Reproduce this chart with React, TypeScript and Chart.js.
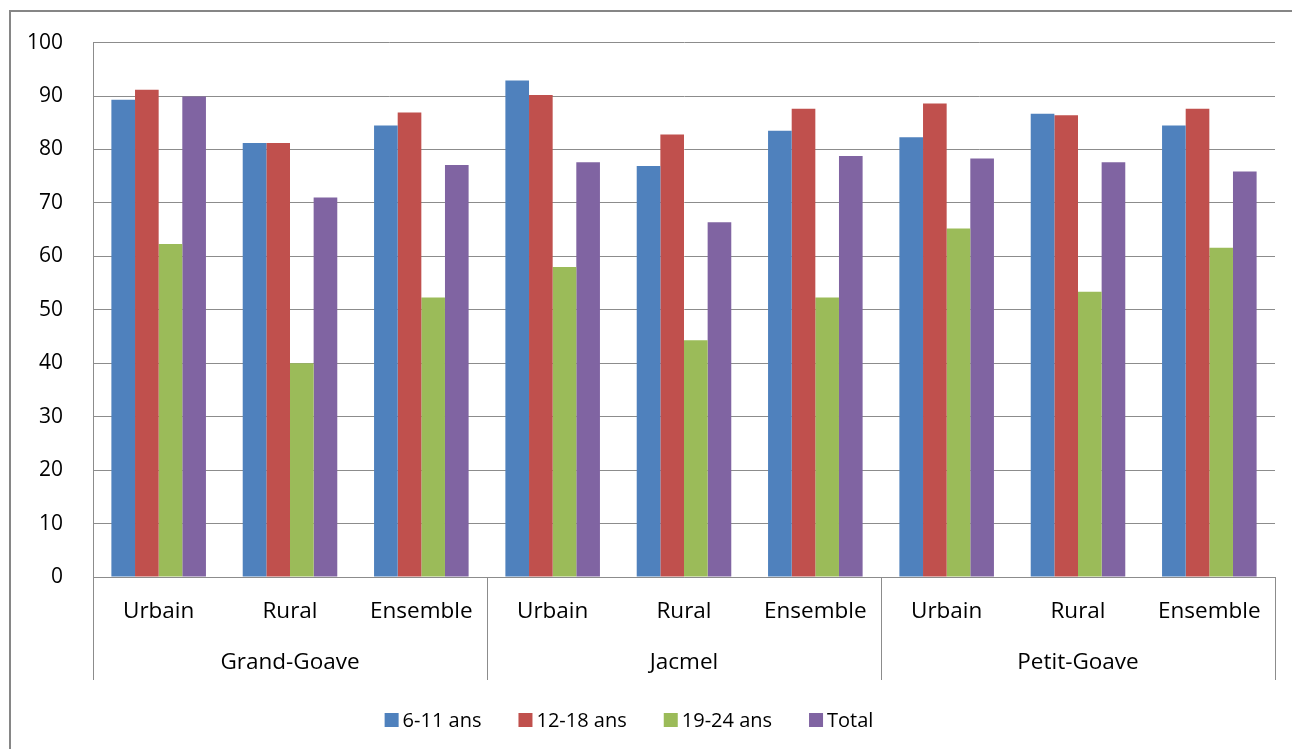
import React, { useEffect, useRef } from "react";
import { Chart, registerables } from "chart.js";

Chart.register(...registerables);

const groups = ["Grand-Goave", "Jacmel", "Petit-Goave"];
const zones = ["Urbain", "Rural", "Ensemble"];
const seriesNames = ["6-11 ans", "12-18 ans", "19-24 ans", "Total"];
const seriesColors = ["#4F81BD", "#C0504D", "#9BBB59", "#8064A2"];

const ans6_11 = [89.3, 81.2, 84.5, 92.9, 76.9, 83.5, 82.3, 86.7, 84.5];
const ans12_18 = [91.2, 81.2, 86.9, 90.2, 82.8, 87.6, 88.6, 86.4, 87.6];
const ans19_24 = [62.3, 40.0, 52.3, 58.0, 44.3, 52.3, 65.2, 53.4, 61.6];
const total = [89.9, 71.0, 77.1, 77.6, 66.4, 78.8, 78.3, 77.6, 75.9];

const yTicks = [0, 10, 20, 30, 40, 50, 60, 70, 80, 90, 100];

const FONT = "'Open Sans', 'Noto Sans', sans-serif";

const groupPlugin = {
  id: "groupAxis",
  afterDraw(chart: any) {
    const { ctx, chartArea, scales } = chart;
    const x = scales.x;
    const n = x.getLabels().length;
    const catW = (x.right - x.left) / n;
    const per = zones.length;
    ctx.save();
    ctx.strokeStyle = "#8c8c8c";
    ctx.lineWidth = 1;
    for (let g = 0; g <= groups.length; g++) {
      const px = Math.round(x.left + g * per * catW) + 0.5;
      ctx.beginPath();
      ctx.moveTo(px, chartArea.bottom);
      ctx.lineTo(px, chartArea.bottom + 103);
      ctx.stroke();
    }
    ctx.fillStyle = "#000";
    ctx.font = `22.5px ${FONT}`;
    ctx.textAlign = "center";
    ctx.textBaseline = "middle";
    groups.forEach((g, i) => {
      const cx = x.left + (i * per + per / 2) * catW;
      ctx.fillText(g, cx, chartArea.bottom + 86);
    });

    // legend
    ctx.font = `20px ${FONT}`;
    const box = 14;
    const gapText = 4;
    const gapItem = 37;
    const items = chart.data.datasets.map((d: any) => ({
      label: d.label,
      color: d.backgroundColor,
      w: ctx.measureText(d.label).width,
    }));
    const totalW =
      items.reduce((s: number, it: any) => s + box + gapText + it.w, 0) +
      gapItem * (items.length - 1);
    let lx = 629 - totalW / 2;
    const ly = 720;
    ctx.textAlign = "left";
    items.forEach((it: any) => {
      ctx.fillStyle = it.color;
      ctx.fillRect(lx, ly - 7, box, box);
      ctx.fillStyle = "#000";
      ctx.fillText(it.label, lx + box + gapText, ly + 1);
      lx += box + gapText + it.w + gapItem;
    });
    ctx.restore();
  },
};

export default function App() {
  const ref = useRef<HTMLCanvasElement>(null);
  useEffect(() => {
    if (!ref.current) return;
    const labels = groups.flatMap(() => zones);
    const data = [ans6_11, ans12_18, ans19_24, total];
    const chart = new Chart(ref.current, {
      type: "bar",
      data: {
        labels,
        datasets: data.map((d, i) => ({
          label: seriesNames[i],
          data: d,
          backgroundColor: seriesColors[i],
          borderWidth: 0,
          categoryPercentage: 0.72,
          barPercentage: 1.0,
        })),
      },
      options: {
        animation: false,
        responsive: false,
        maintainAspectRatio: false,
        layout: { padding: { top: 41, right: 17, bottom: 0, left: 0 } },
        plugins: {
          legend: { display: false },
          tooltip: { enabled: false },
        },
        scales: {
          x: {
            grid: { display: false, drawTicks: false },
            border: { display: true, color: "#8c8c8c", width: 1 },
            ticks: {
              color: "#000",
              font: { family: FONT, size: 22.5 },
              padding: 21,
              maxRotation: 0,
              autoSkip: false,
            },
            afterFit: (s: any) => {
              s.height = 172;
            },
          },
          y: {
            min: 0,
            max: 100,
            afterBuildTicks: (s: any) => {
              s.ticks = yTicks.map((v) => ({ value: v }));
            },
            grid: { color: "#8c8c8c", lineWidth: 1, drawTicks: false },
            border: { display: true, color: "#8c8c8c", width: 1 },
            ticks: {
              color: "#000",
              font: { family: FONT, size: 21 },
              padding: 30,
            },
            afterFit: (s: any) => {
              s.width = 93;
            },
          },
        },
      },
      plugins: [groupPlugin],
    });
    return () => chart.destroy();
  }, []);

  return (
    <div
      style={{
        position: "fixed",
        left: 0,
        top: 0,
        width: 1292,
        height: 749,
        background: "#fff",
        overflow: "hidden",
      }}
    >
      <div
        style={{
          position: "absolute",
          left: 9,
          top: 10,
          width: 1300,
          height: 760,
          borderLeft: "2px solid #868686",
          borderTop: "2px solid #868686",
        }}
      />
      <canvas
        ref={ref}
        width={1292}
        height={749}
        style={{ position: "absolute", left: 0, top: 0, width: 1292, height: 749 }}
      />
    </div>
  );
}
